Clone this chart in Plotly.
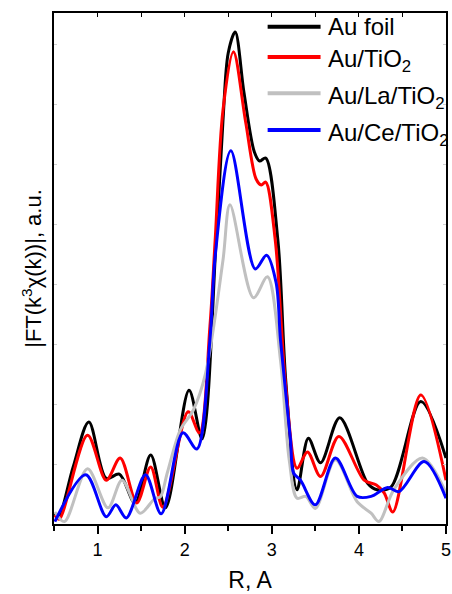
import plotly.graph_objects as go

# Fourier-transformed EXAFS magnitudes |FT(k^3 chi(k))| versus R (A), arbitrary units
r_foil = [0.51, 0.55, 0.72, 0.90, 1.10, 1.25, 1.43, 1.61, 1.78, 2.05, 2.20, 2.36, 2.44, 2.50,
          2.58, 2.68, 2.80, 2.86, 2.93, 3.07, 3.16, 3.29, 3.42, 3.56, 3.78, 4.10, 4.21, 4.37,
          4.71, 5.00]
ft_foil = [0.18, 0.10, 0.95, 1.70, 0.76, 0.83, 0.35, 1.15, 0.27, 2.23, 1.42, 4.70, 6.73, 7.85,
           8.20, 7.20, 6.20, 6.05, 6.10, 4.73, 2.40, 0.57, 1.43, 1.02, 1.77, 0.68, 0.57, 0.62,
           2.04, 1.10]

r_tio2 = [0.51, 0.56, 0.885, 1.10, 1.26, 1.45, 1.61, 1.75, 2.04, 2.17, 2.29, 2.35, 2.44, 2.56,
          2.70, 2.82, 2.88, 2.93, 3.04, 3.16, 3.29, 3.41, 3.56, 3.77, 4.06, 4.20, 4.29, 4.39,
          4.71, 5.00]
ft_tio2 = [0.15, 0.08, 1.48, 0.73, 1.10, 0.35, 0.95, 0.28, 1.87, 1.52, 3.30, 4.73, 6.90, 7.87,
           6.70, 5.75, 5.65, 5.70, 4.73, 2.30, 0.93, 1.20, 0.79, 1.46, 0.73, 0.65, 0.52, 0.20,
           2.15, 0.73]

r_la = [0.51, 0.62, 0.885, 1.12, 1.28, 1.49, 1.66, 1.72, 1.80, 1.95, 2.10, 2.24, 2.44, 2.52,
        2.79, 2.95, 3.10, 3.20, 3.29, 3.39, 3.50, 3.73, 3.98, 4.14, 4.23, 4.40, 4.73, 5.00]
ft_la = [0.20, 0.04, 0.92, 0.27, 0.73, 0.18, 0.43, 0.45, 0.85, 1.57, 1.90, 2.51, 4.40, 5.32,
         3.77, 4.12, 2.73, 1.07, 0.43, 0.46, 0.26, 1.07, 0.37, 0.18, 0.04, 0.57, 1.10, 0.52]

r_ce = [0.51, 0.865, 1.10, 1.21, 1.33, 1.55, 1.73, 1.98, 2.14, 2.29, 2.35, 2.53, 2.81, 2.94,
        3.05, 3.10, 3.215, 3.25, 3.33, 3.50, 3.73, 3.98, 4.14, 4.33, 4.46, 4.75, 5.00]
ft_ce = [0.04, 0.82, 0.12, 0.32, 0.10, 0.82, 0.17, 1.52, 1.25, 3.07, 4.46, 6.22, 4.25, 4.48,
         4.02, 3.07, 1.40, 0.85, 0.73, 0.32, 1.10, 0.46, 0.46, 0.61, 0.54, 1.04, 0.43]

series = [
    ("Au foil", r_foil, ft_foil, "#000000"),
    ("Au/TiO<sub>2</sub>", r_tio2, ft_tio2, "#ff0000"),
    ("Au/La/TiO<sub>2</sub>", r_la, ft_la, "#c0c0c0"),
    ("Au/Ce/TiO<sub>2</sub>", r_ce, ft_ce, "#0000ff"),
]

x_ticks = [1, 2, 3, 4, 5]
font_family = "Arial, Liberation Sans, sans-serif"

fig = go.Figure()
for name, r, ft, color in series:
    fig.add_trace(go.Scatter(
        x=r, y=ft, name=name, mode="lines", showlegend=False,
        line=dict(color=color, width=3, shape="spline", smoothing=0.9),
    ))

# invisible helper trace so the top axis (inside ticks) is drawn
fig.add_trace(go.Scatter(x=[0.5, 5], y=[0, 0], xaxis="x2", mode="lines",
                         line=dict(width=0), showlegend=False, hoverinfo="skip"))

# Key drawn in paper coordinates; it may run past the right edge of the figure
key_x0, key_x1, key_text_x = 0.545, 0.68, 0.695
key_rows = [0.973, 0.914, 0.843, 0.771]
key_text_shift = [0, -4, -4, -4]
for (name, _, _, color), ky, dy in zip(series, key_rows, key_text_shift):
    fig.add_shape(type="line", xref="paper", yref="paper",
                  x0=key_x0, x1=key_x1, y0=ky, y1=ky,
                  line=dict(color=color, width=4))
    fig.add_annotation(xref="paper", yref="paper", x=key_text_x, y=ky,
                       xanchor="left", yanchor="middle", yshift=dy,
                       text=name, showarrow=False,
                       font=dict(size=24, family=font_family, color="black"))

fig.update_layout(
    width=452, height=594,
    margin=dict(l=54, r=6, t=13, b=70, autoexpand=False),
    paper_bgcolor="white", plot_bgcolor="white",
    font=dict(family=font_family, color="black"),
    showlegend=False,
    xaxis=dict(
        range=[0.5, 5], tickvals=x_ticks, ticktext=[str(t) for t in x_ticks],
        ticks="outside", ticklen=8, tickwidth=1.5, tickcolor="black",
        minor=dict(dtick=0.5, tick0=0.5, ticks="outside", ticklen=5, tickwidth=1.5,
                   tickcolor="black", showgrid=False),
        showline=True, linecolor="black", linewidth=2, mirror=True,
        showgrid=False, zeroline=False,
        tickfont=dict(size=18, family=font_family, color="black"),
        title=dict(text="R, A", font=dict(size=23, family=font_family, color="black"),
                   standoff=13),
    ),
    xaxis2=dict(
        overlaying="x", side="top", range=[0.5, 5], dtick=0.5, tick0=0.5,
        ticks="inside", ticklen=4, tickwidth=1.2, tickcolor="black",
        showticklabels=False, showgrid=False, zeroline=False, showline=False,
    ),
    yaxis=dict(
        range=[0, 8.517], dtick=1, tick0=0,
        ticks="inside", ticklen=3, tickwidth=1, tickcolor="#d0d0d0",
        showticklabels=False, showgrid=False, zeroline=False,
        showline=True, linecolor="black", linewidth=2, mirror="ticks",
        title=dict(text="|FT(k<sup>3</sup>χ(k))|, a.u.",
                   font=dict(size=22, family=font_family, color="black"),
                   standoff=4),
    ),
)

fig.write_html("out.html")
